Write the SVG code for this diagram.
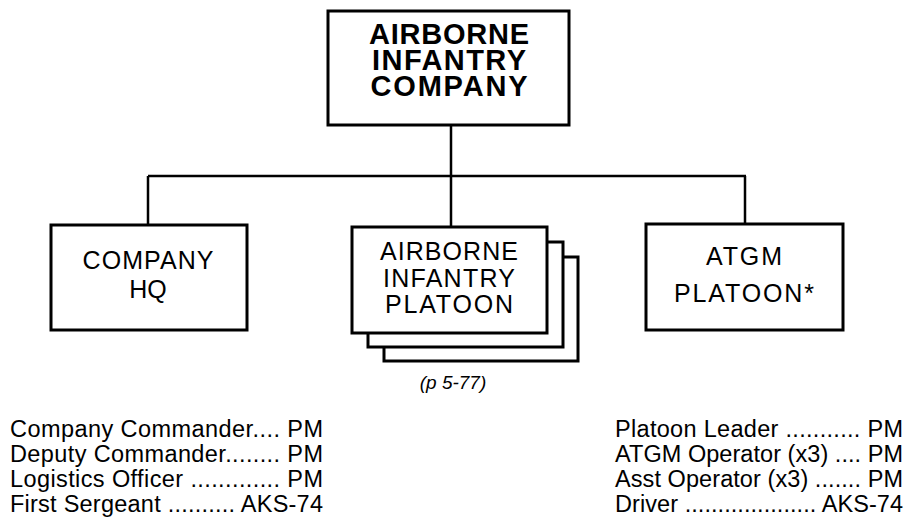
<svg xmlns="http://www.w3.org/2000/svg" width="908" height="517" viewBox="0 0 908 517">
<style>
.box{fill:#fff;stroke:#000;stroke-width:3}
.con{fill:none;stroke:#000;stroke-width:2.5}
.t{font-family:"Liberation Sans",Arial,Helvetica,sans-serif;fill:#000}
.b{font-weight:bold;font-size:29px;text-anchor:middle}
.n{font-size:25px;text-anchor:middle}
.l{font-size:23.5px}
.i{font-size:19px;font-style:italic;text-anchor:middle}
</style>
<rect width="908" height="517" fill="#fff"/>
<g id="connectors">
<path class="con" d="M451 125V176M148 176H746M148 176V225M451 176V227M745 176V224"/>
</g>
<g id="company">
<rect class="box" x="328" y="11" width="241" height="114"/>
<text class="t b" x="449" y="44" textLength="160" lengthAdjust="spacing">AIRBORNE</text>
<text class="t b" x="449" y="70" textLength="154" lengthAdjust="spacing">INFANTRY</text>
<text class="t b" x="449" y="96" textLength="157" lengthAdjust="spacing">COMPANY</text>
</g>
<g id="hq">
<rect class="box" x="51" y="225" width="196" height="105"/>
<text class="t n" x="148" y="269" textLength="131" lengthAdjust="spacing">COMPANY</text>
<text class="t n" x="148" y="298">HQ</text>
</g>
<g id="platoon">
<rect class="box" x="384" y="257" width="194" height="104"/>
<rect class="box" x="368" y="242" width="195" height="105"/>
<rect class="box" x="352" y="227" width="195" height="106"/>
<text class="t n" x="449" y="260" textLength="138" lengthAdjust="spacing">AIRBORNE</text>
<text class="t n" x="449" y="287" textLength="132" lengthAdjust="spacing">INFANTRY</text>
<text class="t n" x="449" y="313" textLength="128" lengthAdjust="spacing">PLATOON</text>
<text class="t i" x="453" y="389">(p 5-77)</text>
</g>
<g id="atgm">
<rect class="box" x="646" y="224" width="197" height="106"/>
<text class="t n" x="744" y="265" textLength="76" lengthAdjust="spacing">ATGM</text>
<text class="t n" x="744" y="302" textLength="140" lengthAdjust="spacing">PLATOON*</text>
</g>
<g id="hq-list">
<text class="t l" x="10" y="437" textLength="313" lengthAdjust="spacing">Company Commander.... PM</text>
<text class="t l" x="10" y="462" textLength="313" lengthAdjust="spacing">Deputy Commander........ PM</text>
<text class="t l" x="10" y="487" textLength="313" lengthAdjust="spacing">Logistics Officer ............. PM</text>
<text class="t l" x="10" y="512" textLength="313" lengthAdjust="spacing">First Sergeant .......... AKS-74</text>
</g>
<g id="atgm-list">
<text class="t l" x="615" y="437" textLength="288" lengthAdjust="spacing">Platoon Leader ........... PM</text>
<text class="t l" x="615" y="462" textLength="288" lengthAdjust="spacing">ATGM Operator (x3) .... PM</text>
<text class="t l" x="615" y="487" textLength="288" lengthAdjust="spacing">Asst Operator (x3) ....... PM</text>
<text class="t l" x="615" y="512" textLength="288" lengthAdjust="spacing">Driver .................... AKS-74</text>
</g>
</svg>
